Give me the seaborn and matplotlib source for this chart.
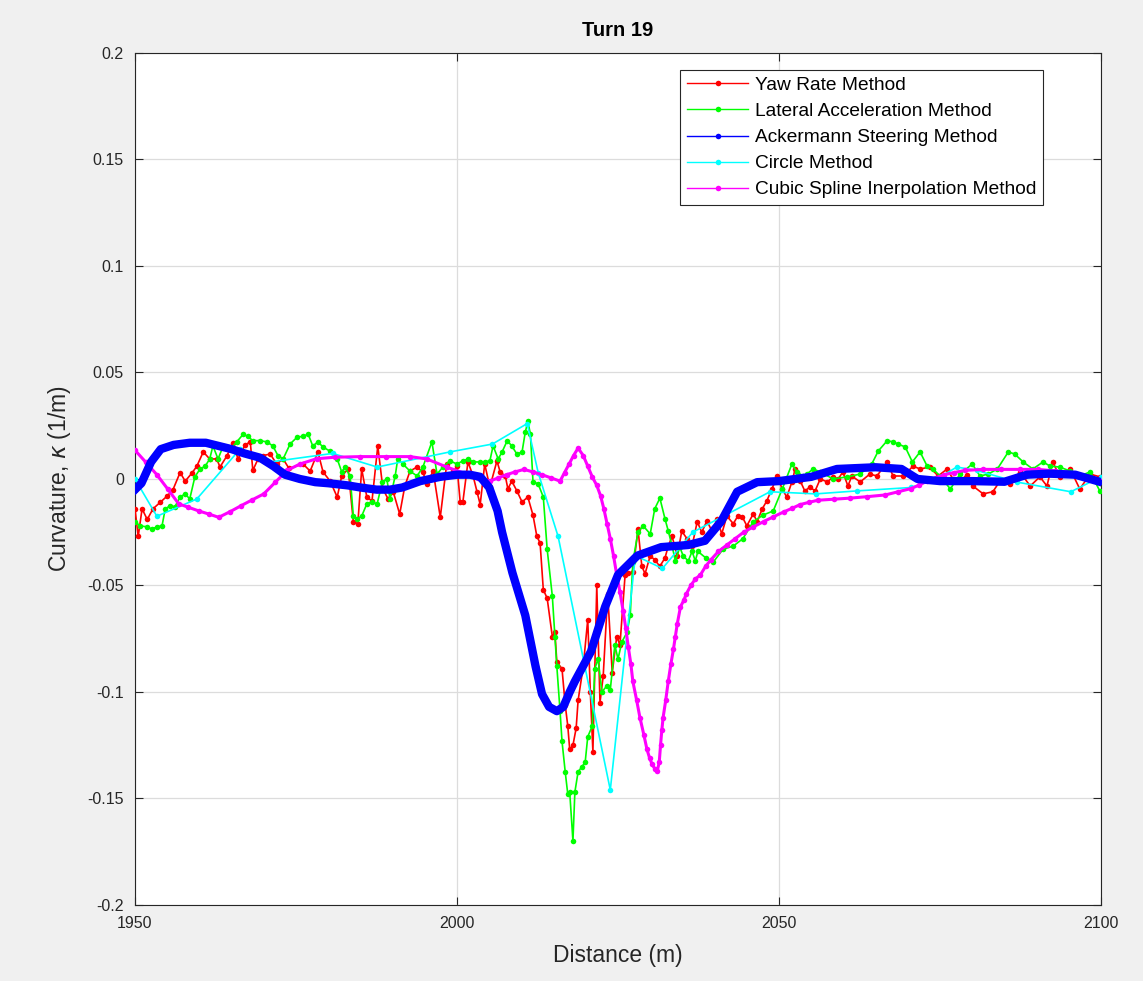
import matplotlib
matplotlib.use("Agg")
import matplotlib.pyplot as plt
from matplotlib.lines import Line2D
import pandas as pd
import seaborn as sns

# ---- Yaw rate method (distance m, curvature 1/m) ----
yaw_dist = [1950.0, 1950.5, 1951.1, 1951.9, 1952.8, 1953.9, 1955.0, 1955.9, 1957.0, 1957.8,
            1958.9, 1959.6, 1960.6, 1961.6, 1962.7, 1963.2, 1964.3, 1965.2, 1966.0, 1967.1,
            1967.9, 1968.3, 1969.1, 1969.9, 1971.0, 1972.0, 1973.0, 1973.9, 1976.1, 1977.2,
            1978.4, 1979.2, 1980.3, 1981.4, 1982.1, 1983.1, 1983.9, 1984.6, 1985.2, 1986.0,
            1986.8, 1987.7, 1988.5, 1989.3, 1990.1, 1991.1, 1991.9, 1992.7, 1993.8, 1994.7,
            1995.3, 1996.3, 1997.4, 1998.4, 1999.4, 2000.0, 2000.5, 2000.9, 2001.7, 2002.5,
            2003.1, 2003.6, 2004.3, 2005.1, 2006.2, 2006.7, 2007.5, 2007.9, 2008.5, 2009.3,
            2010.1, 2011.0, 2011.8, 2012.4, 2012.9, 2013.4, 2014.0, 2014.8, 2015.2, 2015.5,
            2016.3, 2016.8, 2017.2, 2017.5, 2018.0, 2018.5, 2018.8, 2019.6, 2020.3, 2020.7,
            2021.1, 2021.7, 2022.2, 2022.7, 2023.4, 2024.1, 2024.8, 2025.3, 2026.1, 2026.6,
            2027.3, 2028.1, 2028.7, 2029.2, 2030.0, 2030.7, 2031.5, 2032.3, 2032.8, 2033.4,
            2034.2, 2034.9, 2035.7, 2036.5, 2037.3, 2038.0, 2038.8, 2039.6, 2040.4, 2041.1,
            2041.9, 2042.9, 2043.6, 2044.3, 2045.0, 2046.0, 2046.6, 2047.4, 2048.1, 2048.9,
            2049.7, 2050.5, 2051.2, 2052.0, 2052.5, 2053.3, 2054.0, 2054.8, 2055.6, 2056.4,
            2057.5, 2058.4, 2059.2, 2059.9, 2060.7, 2061.3, 2062.6, 2064.1, 2065.2, 2066.8,
            2067.7, 2069.3, 2070.8, 2071.9, 2073.4, 2074.7, 2076.1, 2077.0, 2078.1, 2079.2,
            2080.1, 2081.7, 2083.2, 2084.3, 2085.9, 2087.4, 2089.0, 2090.5, 2091.6, 2092.5,
            2093.6, 2095.2, 2096.7, 2098.3, 2099.8]
yaw_curv = [-0.014, -0.027, -0.014, -0.019, -0.014, -0.011, -0.008, -0.005, 0.003, -0.001,
            0.003, 0.006, 0.0127, 0.0094, 0.0094, 0.0056, 0.011, 0.017, 0.0094, 0.016,
            0.0174, 0.004, 0.0094, 0.011, 0.0117, 0.007, 0.0094, 0.005, 0.007, 0.0037,
            0.0127, 0.0033, -0.001, -0.0085, 0.0014, 0.0047, -0.020, -0.021, 0.0047, -0.0085,
            -0.0103, 0.0155, -0.0047, -0.0094, -0.006, -0.0165, -0.0033, 0.0037, 0.0056, 0.0033,
            -0.0023, 0.0037, -0.018, 0.007, 0.0033, 0.0061, -0.011, -0.011, 0.008, 0.0014,
            -0.006, -0.012, 0.007, -0.0038, 0.0085, 0.0033, 0.0014, -0.0047, -0.001, -0.0056,
            -0.0108, -0.0085, -0.017, -0.027, -0.030, -0.052, -0.056, -0.074, -0.072, -0.086,
            -0.089, -0.106, -0.116, -0.127, -0.125, -0.117, -0.104, -0.088, -0.066, -0.100,
            -0.128, -0.050, -0.105, -0.0925, -0.054, -0.091, -0.074, -0.078, -0.045, -0.044,
            -0.0437, -0.0235, -0.041, -0.0445, -0.036, -0.038, -0.041, -0.037, -0.0315, -0.027,
            -0.036, -0.0245, -0.028, -0.0315, -0.020, -0.025, -0.0197, -0.0245, -0.0188, -0.0258,
            -0.0174, -0.021, -0.0174, -0.0178, -0.022, -0.0164, -0.020, -0.014, -0.0103, -0.0047,
            0.0014, -0.0047, -0.0085, -0.0014, 0.0047, -0.001, -0.0056, -0.0038, -0.0056, 0.0,
            -0.0014, 0.001, 0.0, 0.0033, -0.0033, 0.0014, -0.0014, 0.0023, 0.0014, 0.008,
            0.0014, 0.0014, 0.006, 0.0047, 0.0056, 0.0014, 0.0047, 0.0, -0.001, 0.002,
            -0.0033, -0.007, -0.006, -0.001, -0.0023, 0.0033, -0.0033, 0.001, -0.0033, 0.008,
            0.001, 0.0047, -0.0047, 0.0023, 0.001]

# ---- Lateral acceleration method ----
lat_dist = [1950.0, 1950.8, 1951.9, 1952.6, 1953.4, 1954.2, 1954.7, 1955.4, 1956.2, 1957.0,
            1957.8, 1958.5, 1959.3, 1960.1, 1960.9, 1961.6, 1962.1, 1962.9, 1963.7, 1964.8,
            1965.8, 1966.8, 1967.5, 1968.3, 1969.4, 1970.5, 1971.4, 1972.2, 1973.0, 1974.1,
            1975.2, 1976.1, 1976.9, 1977.6, 1978.4, 1979.2, 1980.3, 1981.4, 1982.1, 1982.6,
            1983.4, 1983.9, 1984.5, 1985.2, 1986.0, 1986.8, 1987.6, 1988.4, 1989.1, 1989.6,
            1990.4, 1990.8, 1991.6, 1992.7, 1993.8, 1994.7, 1996.1, 1996.9, 1997.8, 1998.9,
            2000.0, 2000.9, 2001.7, 2002.5, 2003.6, 2004.3, 2005.1, 2005.6, 2006.4, 2007.0,
            2007.8, 2008.5, 2009.3, 2010.1, 2010.6, 2011.0, 2011.4, 2011.8, 2012.6, 2013.4,
            2014.0, 2014.8, 2015.2, 2015.5, 2016.0, 2016.3, 2016.8, 2017.2, 2017.5, 2018.0,
            2018.3, 2018.8, 2019.4, 2019.9, 2020.3, 2021.0, 2021.4, 2021.9, 2022.5, 2023.3,
            2023.8, 2024.5, 2025.0, 2025.6, 2026.4, 2026.9, 2027.3, 2028.1, 2028.9, 2030.0,
            2030.7, 2031.5, 2032.3, 2032.8, 2033.4, 2033.9, 2034.6, 2035.1, 2035.9, 2036.5,
            2037.0, 2037.4, 2038.6, 2039.8, 2041.3, 2042.9, 2044.4, 2046.0, 2047.5, 2049.1,
            2050.5, 2052.0, 2052.8, 2053.7, 2054.3, 2055.3, 2056.4, 2058.4, 2060.6, 2062.6,
            2064.4, 2065.4, 2066.8, 2067.7, 2068.5, 2069.6, 2070.7, 2071.9, 2073.0, 2073.9,
            2075.0, 2076.6, 2078.1, 2080.0, 2081.2, 2082.5, 2083.9, 2085.6, 2086.6, 2087.9,
            2089.4, 2091.0, 2092.1, 2093.6, 2095.2, 2096.7, 2098.3, 2099.8]
lat_curv = [-0.020, -0.022, -0.0225, -0.0235, -0.0225, -0.022, -0.014, -0.0127, -0.013, -0.0085,
            -0.007, -0.0094, 0.001, 0.0047, 0.006, 0.0094, 0.0155, 0.0094, 0.0155, 0.014,
            0.0174, 0.021, 0.020, 0.018, 0.018, 0.0174, 0.0155, 0.011, 0.0094, 0.0165,
            0.0197, 0.020, 0.021, 0.0155, 0.0174, 0.015, 0.013, 0.0094, 0.0033, 0.0056,
            0.0014, -0.0174, -0.0188, -0.0174, -0.0117, -0.0108, -0.0117, -0.0014, 0.0, -0.0094,
            0.0014, 0.0094, 0.007, 0.0037, 0.0014, 0.0056, 0.0174, 0.0023, 0.0056, 0.0085,
            0.007, 0.0085, 0.0094, 0.008, 0.008, 0.008, 0.0085, 0.0155, 0.0094, 0.0127,
            0.018, 0.0155, 0.0117, 0.0127, 0.022, 0.027, 0.021, -0.0014, -0.0023, -0.0085,
            -0.033, -0.055, -0.074, -0.088, -0.109, -0.123, -0.1375, -0.148, -0.147, -0.170,
            -0.147, -0.1375, -0.135, -0.133, -0.121, -0.116, -0.089, -0.0845, -0.100, -0.097,
            -0.099, -0.078, -0.0845, -0.0765, -0.072, -0.064, -0.039, -0.025, -0.022, -0.0258,
            -0.014, -0.009, -0.0188, -0.0244, -0.0315, -0.0385, -0.032, -0.036, -0.0385, -0.034,
            -0.0385, -0.034, -0.037, -0.039, -0.033, -0.0315, -0.028, -0.020, -0.017, -0.015,
            -0.0047, 0.007, 0.0033, 0.0014, 0.0023, 0.0047, 0.0033, 0.0, 0.001, 0.0023,
            0.007, 0.0131, 0.018, 0.0174, 0.0164, 0.015, 0.008, 0.0127, 0.006, 0.0047,
            0.0014, -0.0047, 0.0023, 0.007, 0.0014, 0.0023, 0.0047, 0.0127, 0.0117, 0.008,
            0.0047, 0.008, 0.006, 0.0056, 0.0037, 0.0014, 0.0033, -0.0056]

# ---- Ackermann steering method ----
ack_dist = [1950.0, 1951.0, 1952.5, 1954.0, 1956.0, 1958.5, 1961.0, 1963.0, 1965.0, 1967.0,
            1969.4, 1971.5, 1973.3, 1975.6, 1978.0, 1980.0, 1983.0, 1985.0, 1987.5, 1989.6,
            1991.5, 1994.3, 1997.4, 2000.0, 2002.0, 2003.6, 2005.0, 2006.3, 2007.0, 2008.6,
            2010.6, 2012.2, 2013.2, 2014.3, 2015.5, 2016.5, 2017.5, 2018.3, 2020.8, 2023.0,
            2025.0, 2028.0, 2031.7, 2035.9, 2038.5, 2041.0, 2043.5, 2046.6, 2050.0, 2055.0,
            2059.0, 2065.0, 2069.0, 2071.5, 2075.0, 2080.0, 2085.0, 2088.5, 2092.0, 2096.0,
            2100.0]
ack_curv = [-0.005, -0.002, 0.008, 0.014, 0.016, 0.017, 0.017, 0.0155, 0.014, 0.012,
            0.010, 0.006, 0.002, 0.0, -0.0015, -0.002, -0.003, -0.004, -0.005, -0.005,
            -0.004, -0.001, 0.001, 0.002, 0.002, 0.001, -0.004, -0.015, -0.025, -0.044,
            -0.064, -0.088, -0.101, -0.107, -0.109, -0.107, -0.100, -0.095, -0.081, -0.060,
            -0.045, -0.036, -0.032, -0.031, -0.029, -0.020, -0.006, -0.0015, -0.001, 0.001,
            0.0047, 0.0055, 0.0047, 0.0, -0.001, -0.001, -0.0013, 0.002, 0.0025, 0.002,
            -0.0015]

# ---- Circle method ----
circ_dist = [1950.0, 1953.4, 1959.6, 1966.3, 1971.0, 1980.7, 1987.6, 1998.9, 2005.5, 2010.9,
             2012.6, 2015.7, 2023.8, 2027.7, 2031.9, 2036.6, 2048.6, 2055.7, 2062.1, 2070.5,
             2074.5, 2077.6, 2080.7, 2087.0, 2095.3, 2100.0]
circ_curv = [0.0, -0.0175, -0.0094, 0.014, 0.008, 0.012, 0.0056, 0.0127, 0.0164, 0.026,
             0.003, -0.027, -0.146, -0.036, -0.042, -0.025, -0.006, -0.007, -0.0056, -0.004,
             0.0, 0.0056, 0.004, -0.0015, -0.006, 0.001]

# ---- Cubic spline interpolation method ----
spl_dist = [1950.0, 1951.7, 1953.4, 1955.1, 1956.8, 1958.3, 1959.9, 1961.5, 1963.0, 1964.8,
            1966.5, 1968.2, 1970.0, 1971.8, 1973.6, 1975.6, 1978.2, 1981.0, 1985.0, 1989.0,
            1992.7, 1995.3, 1998.4, 2001.5, 2003.3, 2005.1, 2006.4, 2007.7, 2009.0, 2010.4,
            2011.8, 2013.2, 2014.6, 2016.0, 2016.7, 2017.4, 2018.1, 2018.8, 2019.6, 2020.3,
            2021.0, 2021.7, 2022.3, 2022.8, 2023.3, 2023.8, 2024.3, 2024.8, 2025.3, 2025.8,
            2026.2, 2026.6, 2027.0, 2027.3, 2027.9, 2028.4, 2029.0, 2029.5, 2029.9, 2030.3,
            2030.7, 2031.1, 2031.4, 2031.6, 2031.8, 2032.0, 2032.4, 2032.8, 2033.2, 2033.6,
            2033.9, 2034.2, 2034.7, 2035.2, 2035.6, 2036.3, 2037.0, 2037.8, 2038.6, 2039.4,
            2040.6, 2041.9, 2043.2, 2044.5, 2046.0, 2047.6, 2049.1, 2050.7, 2052.0, 2053.3,
            2054.6, 2056.0, 2058.5, 2061.0, 2063.7, 2066.5, 2068.5, 2070.5, 2071.8, 2073.0,
            2074.3, 2075.6, 2077.2, 2078.8, 2081.6, 2084.5, 2087.4, 2090.2, 2092.8, 2095.3,
            2097.6, 2100.0]
spl_curv = [0.0135, 0.0078, 0.002, -0.0048, -0.0117, -0.0133, -0.0150, -0.0165, -0.018, -0.0153,
            -0.0125, -0.0098, -0.007, -0.0015, 0.004, 0.007, 0.0095, 0.0102, 0.0105, 0.0105,
            0.0105, 0.0094, 0.0056, 0.0023, 0.0006, -0.001, 0.0005, 0.002, 0.0033, 0.0045,
            0.0033, 0.002, 0.0005, -0.001, 0.003, 0.007, 0.011, 0.0145, 0.011, 0.006,
            0.001, -0.003, -0.008, -0.014, -0.021, -0.028, -0.036, -0.045, -0.053, -0.062,
            -0.070, -0.079, -0.087, -0.095, -0.104, -0.112, -0.120, -0.127, -0.131, -0.134,
            -0.136, -0.137, -0.133, -0.125, -0.118, -0.112, -0.104, -0.095, -0.087, -0.080,
            -0.074, -0.068, -0.060, -0.057, -0.054, -0.050, -0.047, -0.045, -0.041, -0.038,
            -0.034, -0.031, -0.028, -0.025, -0.0225, -0.020, -0.0178, -0.0155, -0.0138, -0.012,
            -0.011, -0.010, -0.0095, -0.009, -0.0083, -0.0075, -0.006, -0.0045, -0.0028, -0.001,
            0.0005, 0.002, 0.003, 0.004, 0.0045, 0.0045, 0.0045, 0.0045, 0.0038, 0.003,
            0.001, -0.001]

series = [
    ("Yaw Rate Method", yaw_dist, yaw_curv, "#ff0000", 1.2, 4),
    ("Lateral Acceleration Method", lat_dist, lat_curv, "#00ff00", 1.2, 4),
    ("Circle Method", circ_dist, circ_curv, "#00ffff", 1.2, 4),
    ("Cubic Spline Inerpolation Method", spl_dist, spl_curv, "#ff00ff", 2.2, 4),
    ("Ackermann Steering Method", ack_dist, ack_curv, "#0000ff", 6.0, 4),
]
legend_order = ["Yaw Rate Method", "Lateral Acceleration Method", "Ackermann Steering Method",
                "Circle Method", "Cubic Spline Inerpolation Method"]

plt.rcParams["font.family"] = ["Liberation Sans", "DejaVu Sans"]
plt.rcParams["axes.unicode_minus"] = False
plt.rcParams["mathtext.fontset"] = "dejavusans"

fig = plt.figure(figsize=(11.43, 9.81), dpi=100, facecolor="#f0f0f0")
ax = fig.add_axes([0.1181, 0.0775, 0.8452, 0.8685])
ax.set_facecolor("white")

colors = {}
for name, dist, curv, color, lw, ms in series:
    df = pd.DataFrame({"Distance": dist, "Curvature": curv})
    sns.lineplot(data=df, x="Distance", y="Curvature", ax=ax, color=color, linewidth=lw,
                 marker="o", markersize=ms, markeredgewidth=0, estimator=None, sort=False,
                 zorder=3)
    colors[name] = color

ax.set_xlim(1950, 2100)
ax.set_ylim(-0.2, 0.2)
x_ticks = [1950, 2000, 2050, 2100]
y_ticks = [-0.2, -0.15, -0.1, -0.05, 0, 0.05, 0.1, 0.15, 0.2]
y_tick_labels = ["-0.2", "-0.15", "-0.1", "-0.05", "0", "0.05", "0.1", "0.15", "0.2"]
ax.set_xticks(x_ticks)
ax.set_xticklabels([str(t) for t in x_ticks])
ax.set_yticks(y_ticks)
ax.set_yticklabels(y_tick_labels)
ax.tick_params(axis="both", direction="in", length=6, width=0.8, labelsize=11.5,
               colors="#262626", top=True, right=True, pad=8)
ax.grid(True, color="#dcdcdc", linewidth=0.9)
ax.set_axisbelow(True)
for sp in ax.spines.values():
    sp.set_color("#262626")
    sp.set_linewidth(0.8)

ax.set_xlabel("Distance (m)", fontsize=16.5, color="#262626", labelpad=9)
ax.set_ylabel(r"Curvature, $\kappa$ (1/m)", fontsize=16.5, color="#262626", labelpad=10)
ax.set_title("Turn 19", fontsize=14.5, fontweight="bold", color="black", pad=12)

handles = [Line2D([0], [0], color=colors[n], linewidth=1.0, marker="o", markersize=4,
                  markeredgewidth=0) for n in legend_order]
leg = ax.legend(handles, legend_order, loc="upper right", bbox_to_anchor=(0.94, 0.98),
                fontsize=13.8, frameon=True, fancybox=False, framealpha=1, edgecolor="#262626",
                handlelength=3.2, handletextpad=0.35, labelspacing=0.45, borderpad=0.35,
                borderaxespad=0)
leg.get_frame().set_linewidth(0.8)

fig.savefig("out.png", dpi=100, facecolor=fig.get_facecolor())
